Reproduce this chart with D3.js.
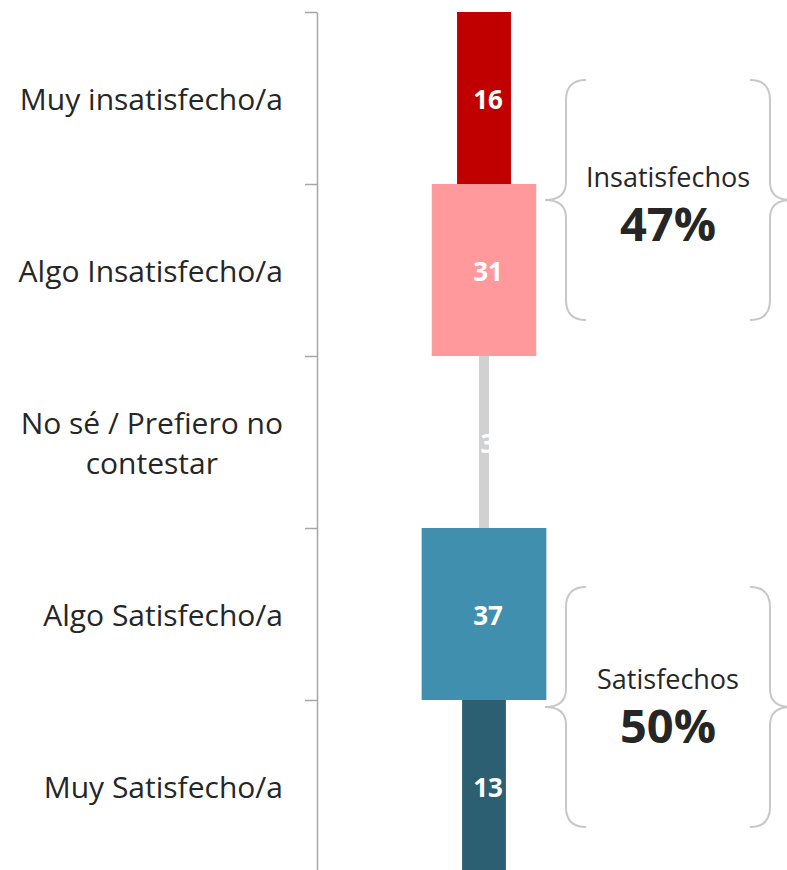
<!DOCTYPE html>
<html>
<head>
<meta charset="utf-8">
<script src="https://cdn.jsdelivr.net/npm/d3@7"></script>
<style>
  body { margin: 0; background: #fff; }
  svg { display: block; font-family: "Open Sans", "Noto Sans", sans-serif; }
</style>
</head>
<body>
<svg id="chart" width="787" height="870"></svg>
<script>
// data
const categories = [
  "Muy insatisfecho/a",
  "Algo Insatisfecho/a",
  "No sé / Prefiero no|contestar",
  "Algo Satisfecho/a",
  "Muy Satisfecho/a"
];
const values = [16, 31, 3, 37, 13];
const colors = ["#C00000", "#FF999C", "#D0D1D0", "#418FAE", "#2B5F71"];
const groupNames = ["Insatisfechos", "Satisfechos"];
const groupMembers = [[0, 1], [3, 4]];

const width = 787, height = 870;
const svg = d3.select("#chart");

// scales
const y = d3.scaleBand()
  .domain(categories)
  .range([12, 872])
  .padding(0);

const w = d3.scaleLinear()
  .domain([0, 100])
  .range([0, 337]);

const cx = 484;

// axis line with ticks at band boundaries
const yEdge = d3.scaleLinear()
  .domain([0, categories.length])
  .range([12, 872]);

svg.append("g")
  .attr("transform", "translate(317,0)")
  .call(d3.axisLeft(yEdge)
    .tickValues(d3.range(categories.length + 1))
    .tickFormat("")
    .tickSizeInner(12)
    .tickSizeOuter(0))
  .call(g => g.selectAll("path, line").attr("stroke", "#A6A6A6").attr("stroke-width", 1.5));

// category labels
const labels = svg.append("g");
categories.forEach((c, i) => {
  const lines = c.split("|");
  const t = labels.append("text")
    .attr("font-size", 30)
    .attr("fill", "#262626")
    .attr("text-anchor", "middle");
  const lh = 40;
  const y0 = y(c) + y.bandwidth() / 2 - (lines.length - 1) * lh / 2 + 12;
  lines.forEach((ln, j) => {
    t.append("tspan").attr("y", y0 + j * lh).text(ln);
  });
  // center the lines within the widest one, right-aligned at x=283
  let maxW = 0;
  t.selectAll("tspan").each(function () {
    maxW = Math.max(maxW, this.getComputedTextLength());
  });
  t.selectAll("tspan").attr("x", 283 - maxW / 2);
});

// bars
svg.append("g")
  .selectAll("rect")
  .data(values)
  .join("rect")
  .attr("x", d => cx - w(d) / 2)
  .attr("y", (d, i) => y(categories[i]))
  .attr("width", d => w(d))
  .attr("height", y.bandwidth())
  .attr("fill", (d, i) => colors[i]);

// value labels
svg.append("g")
  .selectAll("text")
  .data(values)
  .join("text")
  .attr("x", cx + 4)
  .attr("y", (d, i) => y(categories[i]) + y.bandwidth() / 2 + 11)
  .attr("text-anchor", "middle")
  .attr("font-size", 26)
  .attr("font-weight", 700)
  .attr("fill", "#fff")
  .text(d => d);

// group braces
function bracePath(x, top, bot, dir) {
  // dir = -1 points left, +1 points right
  const mid = (top + bot) / 2;
  const r = 20, tip = 21 * dir;
  return `M${x + r * -dir},${top}` +
    ` Q${x},${top} ${x},${top + r}` +
    ` L${x},${mid - 18}` +
    ` Q${x},${mid} ${x + tip},${mid}` +
    ` Q${x},${mid} ${x},${mid + 18}` +
    ` L${x},${bot - r}` +
    ` Q${x},${bot} ${x + r * -dir},${bot}`;
}

const braceShift = [16, 7];
const textShift = [13, 8];
const braces = svg.append("g");
groupMembers.forEach((m, gi) => {
  const top = y(categories[m[0]]);
  const bot = y(categories[m[1]]) + y.bandwidth();
  const mid = (top + bot) / 2 + braceShift[gi];
  const bTop = mid - 120, bBot = mid + 120;
  braces.append("path")
    .attr("d", bracePath(566, bTop, bBot, -1))
    .attr("fill", "none")
    .attr("stroke", "#C8C8C8")
    .attr("stroke-width", 2);
  braces.append("path")
    .attr("d", bracePath(770, bTop, bBot, 1))
    .attr("fill", "none")
    .attr("stroke", "#C8C8C8")
    .attr("stroke-width", 2);
  const total = d3.sum(m, k => values[k]);
  const tc = mid + textShift[gi];
  braces.append("text")
    .attr("x", 668)
    .attr("y", tc - 26)
    .attr("text-anchor", "middle")
    .attr("font-size", 27)
    .attr("fill", "#262626")
    .text(groupNames[gi]);
  braces.append("text")
    .attr("x", 668)
    .attr("y", tc + 28)
    .attr("text-anchor", "middle")
    .attr("font-size", 47)
    .attr("font-weight", 700)
    .attr("fill", "#262626")
    .text(total + "%");
});
</script>
</body>
</html>
